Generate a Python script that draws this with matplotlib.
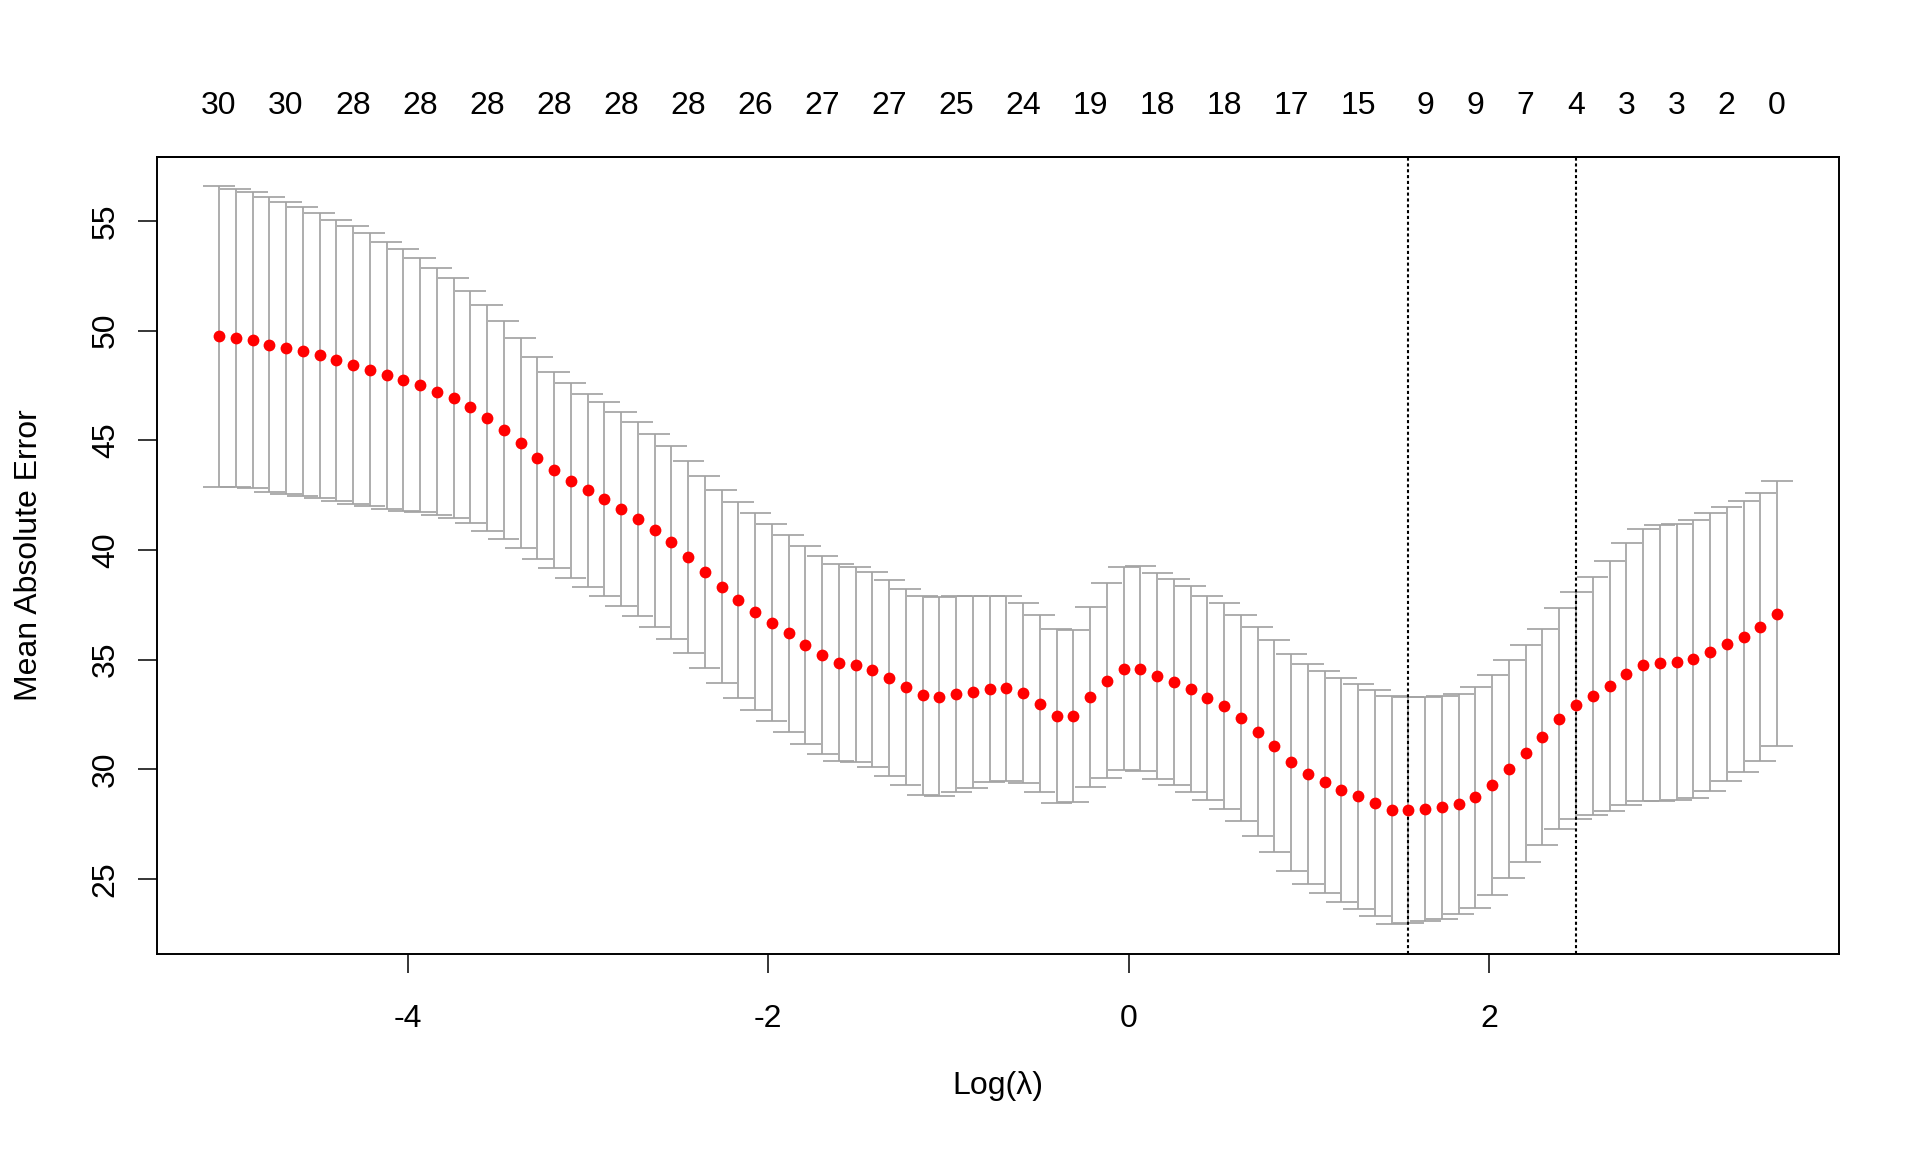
import numpy as np
import matplotlib
matplotlib.use('Agg')
import matplotlib.pyplot as plt

# log(lambda) grid of the cv.glmnet fit: 94 evenly spaced values
log_lambda = np.linspace(-5.05, 3.60, 94)

# cross-validated mean absolute error (red points)
cv_mean = [49.73, 49.66, 49.57, 49.36, 49.22, 49.05, 48.87, 48.64, 48.43, 48.22,
           47.96, 47.75, 47.52, 47.22, 46.92, 46.52, 46.01, 45.46, 44.87, 44.18,
           43.64, 43.16, 42.71, 42.32, 41.88,
           41.41, 40.90, 40.35, 39.67, 39.00, 38.33, 37.72, 37.17, 36.68, 36.19,
           35.65, 35.19, 34.86, 34.77, 34.54, 34.17, 33.75, 33.38, 33.31, 33.43,
           33.52, 33.66, 33.70, 33.47, 32.98, 32.43,
           32.43, 33.29, 34.03, 34.59, 34.59, 34.24, 33.98, 33.66, 33.26, 32.87,
           32.33, 31.71, 31.06, 30.31, 29.78, 29.43, 29.06, 28.76, 28.46, 28.13,
           28.13, 28.18, 28.27, 28.43, 28.73, 29.29,
           30.01, 30.73, 31.47, 32.31, 32.91, 33.33, 33.80, 34.35, 34.75, 34.84,
           34.89, 35.03, 35.33, 35.70, 36.05, 36.49, 37.09]

# standard error half-widths (grey bars)
cv_sd = [6.85, 6.81, 6.75, 6.73, 6.66, 6.58, 6.49, 6.42, 6.33, 6.21,
         6.09, 5.96, 5.78, 5.65, 5.48, 5.30, 5.16, 4.96, 4.78, 4.60,
         4.46, 4.44, 4.41, 4.41, 4.42,
         4.42, 4.40, 4.40, 4.39, 4.39, 4.40, 4.45, 4.49, 4.49, 4.48,
         4.52, 4.51, 4.49, 4.46, 4.44, 4.46, 4.48, 4.54, 4.55, 4.49,
         4.39, 4.24, 4.22, 4.10, 4.03, 3.95,
         3.92, 4.09, 4.45, 4.64, 4.66, 4.69, 4.70, 4.70, 4.66, 4.69,
         4.70, 4.76, 4.84, 4.95, 5.00, 5.06, 5.09, 5.12, 5.17, 5.20,
         5.16, 5.11, 5.09, 5.02, 5.04, 5.02,
         4.96, 4.94, 4.92, 5.02, 5.19, 5.43, 5.69, 5.96, 6.19, 6.28,
         6.31, 6.33, 6.33, 6.24, 6.17, 6.10, 6.05]

# number of nonzero coefficients shown on the top axis
nz_index = [0, 4, 8, 12, 16, 20, 24, 28, 32, 36, 40, 44, 48,
            52, 56, 60, 64, 68, 72, 75, 78, 81, 84, 87, 90, 93]
nz_labels = ['30', '30', '28', '28', '28', '28', '28', '28', '26', '27', '27', '25', '24',
             '19', '18', '18', '17', '15', '9', '9', '7', '4', '3', '3', '2', '0']

idx_min = 71   # lambda.min
idx_1se = 81   # lambda.1se


def createplot():
    plt.rcParams['font.family'] = ['Liberation Sans', 'DejaVu Sans']
    fs = 23
    grey = '#a3a3a3'

    x = log_lambda
    mean = np.array(cv_mean)
    sd = np.array(cv_sd)
    upper = mean + sd
    lower = mean - sd

    fig = plt.figure(figsize=(19.2, 11.52), dpi=100)
    ax = fig.add_axes([0.0816, 0.172, 0.8764, 0.692])

    # error bars like glmnet's error.bars(width = 0.01)
    barw = 0.01 * (x.max() - x.min())
    ax.vlines(x, lower, upper, color=grey, lw=1.25)
    ax.hlines(upper, x - barw, x + barw, color=grey, lw=1.25)
    ax.hlines(lower, x - barw, x + barw, color=grey, lw=1.25)
    ax.plot(x, mean, 'o', color='red', ms=8.5, mec='none', zorder=3)

    ax.axvline(x[idx_min], color='black', lw=1.5, ls=(0, (1.5, 1.3)))
    ax.axvline(x[idx_1se], color='black', lw=1.5, ls=(0, (1.5, 1.3)))

    # R style 4% padding
    xr = x.max() - x.min()
    yr = upper.max() - lower.min()
    ax.set_xlim(x.min() - 0.04 * xr, x.max() + 0.04 * xr)
    ax.set_ylim(lower.min() - 0.04 * yr, upper.max() + 0.04 * yr)

    ax.set_xticks([-4, -2, 0, 2])
    ax.set_xticklabels(['-4', '-2', '0', '2'])
    ax.set_yticks([25, 30, 35, 40, 45, 50, 55])
    ax.set_yticklabels(['25', '30', '35', '40', '45', '50', '55'],
                       rotation=90, va='center')
    ax.tick_params(axis='both', length=13.8, width=1.1, labelsize=fs)
    ax.tick_params(axis='x', pad=22)
    ax.tick_params(axis='y', pad=12)
    for sp in ax.spines.values():
        sp.set_linewidth(1.4)

    top = ax.secondary_xaxis('top')
    top.set_xticks(x[nz_index])
    top.set_xticklabels(nz_labels)
    top.tick_params(length=0, pad=26, labelsize=fs)
    top.spines['top'].set_linewidth(1.4)

    ax.set_xlabel('Log(λ)', fontsize=fs, va='center')
    ax.xaxis.set_label_coords(0.5, -0.166)
    ax.set_ylabel('Mean Absolute Error', fontsize=fs, va='center')
    ax.yaxis.set_label_coords(-0.0758, 0.5)

    fig.savefig('out.png', dpi=100)


if __name__ == "__main__":
    createplot()
